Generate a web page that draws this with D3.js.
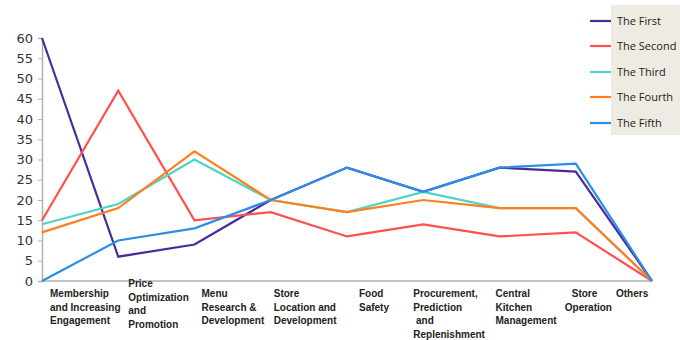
<!DOCTYPE html>
<html>
<head>
<meta charset="utf-8">
<script src="https://cdn.jsdelivr.net/npm/d3@7"></script>
<style>
  body { margin: 0; background: #fff; }
  .ytick text { font-family: "DejaVu Sans", Verdana, sans-serif; font-size: 13px; fill: #333; }
  .cat { font-family: "Liberation Sans", Arial, sans-serif; font-size: 10px; font-weight: bold; fill: #222; }
  .legend text { font-family: "Open Sans", sans-serif; font-size: 11px; fill: #222; }
</style>
</head>
<body>
<div id="container"></div>
<script>
// categories (multi-line labels) and series values
const categories = [
  ['Membership', 'and Increasing', 'Engagement'],
  ['Price', 'Optimization', 'and', 'Promotion'],
  ['Menu', 'Research &', 'Development'],
  ['Store', 'Location and', 'Development'],
  ['Food', 'Safety'],
  ['Procurement,', 'Prediction', ' and', 'Replenishment'],
  ['Central', 'Kitchen', 'Management'],
  ['Store', 'Operation'],
  ['Others']
];
const seriesNames = ['The First', 'The Second', 'The Third', 'The Fourth', 'The Fifth'];
const first  = [60, 6, 9, 20, 28, 22, 28, 27, 0];
const second = [15, 47, 15, 17, 11, 14, 11, 12, 0];
const third  = [14, 19, 30, 20, 17, 22, 18, 18, 0];
const fourth = [12, 18, 32, 20, 17, 20, 18, 18, 0];
const fifth  = [0, 10, 13, 20, 28, 22, 28, 29, 0];
const yTicks = [0, 5, 10, 15, 20, 25, 30, 35, 40, 45, 50, 55, 60];

const colors = ['#4b2a9c', '#ff4f4f', '#4fd3c4', '#ff7f1e', '#2a8ee6'];
// label layout tweaks (x offset from point, line offsets)
const labelDx = [8, 10, 7, 3, 12, -10, -4, -11, -36];
const labelFirstLine = [0, -1, 0, 0, 0, 0, 0, 0, 0];

const width = 680, height = 340;
const svg = d3.select('#container').append('svg')
  .attr('width', width)
  .attr('height', height);

const x = d3.scalePoint()
  .domain(d3.range(categories.length))
  .range([42, 652]);

const y = d3.scaleLinear()
  .domain([0, 60])
  .range([281, 38]);

// y axis
const yAxis = svg.append('g')
  .attr('class', 'ytick')
  .attr('transform', 'translate(42,0)')
  .call(d3.axisLeft(y).tickValues(yTicks).tickSize(4).tickPadding(5));
yAxis.select('.domain').attr('stroke', '#b0b0b0').attr('stroke-width', 1.5);
yAxis.selectAll('.tick line').attr('stroke', '#b0b0b0');

// x axis line
svg.append('line')
  .attr('x1', x(0)).attr('x2', x(categories.length - 1))
  .attr('y1', y(0)).attr('y2', y(0))
  .attr('stroke', '#b0b0b0')
  .attr('stroke-width', 1.5);

// category labels
categories.forEach((lines, i) => {
  const t = svg.append('text')
    .attr('class', 'cat')
    .attr('x', x(i) + labelDx[i])
    .attr('y', 297 + labelFirstLine[i] * 10);
  lines.forEach((ln, j) => {
    let dx = 0;
    if (i === 7 && j === 0) dx = 7;
    t.append('tspan')
      .attr('x', x(i) + labelDx[i] + dx)
      .attr('dy', j === 0 ? 0 : 13.5)
      .attr('xml:space', 'preserve')
      .text(ln);
  });
});

// lines
const allSeries = [first, second, third, fourth, fifth];
const line = d3.line()
  .x((d, i) => x(i))
  .y(d => y(d));

// draw in order so blue sits over purple
allSeries.forEach((s, k) => {
  svg.append('path')
    .datum(s)
    .attr('fill', 'none')
    .attr('stroke', colors[k])
    .attr('stroke-width', 2.2)
    .attr('stroke-linejoin', 'miter')
    .attr('d', line);
});

// legend
const legend = svg.append('g').attr('class', 'legend');
legend.append('rect')
  .attr('x', 611).attr('y', 5)
  .attr('width', 69).attr('height', 130)
  .attr('fill', '#eeebe2');
const legendY = [21, 46, 72, 97, 123];
seriesNames.forEach((name, k) => {
  legend.append('line')
    .attr('x1', 590).attr('x2', 611)
    .attr('y1', legendY[k]).attr('y2', legendY[k])
    .attr('stroke', colors[k])
    .attr('stroke-width', 2.2);
  legend.append('text')
    .attr('x', 617)
    .attr('y', legendY[k] + 4)
    .text(name);
});
</script>
</body>
</html>
